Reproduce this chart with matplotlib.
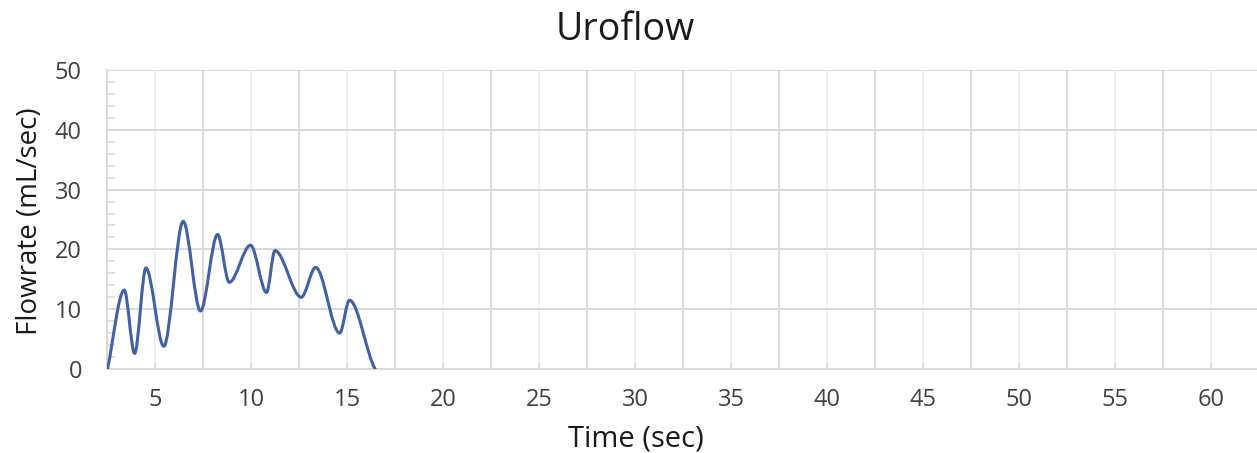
import numpy as np
import matplotlib.pyplot as plt
from matplotlib.path import Path
from matplotlib.patches import PathPatch

plt.rcParams['font.family'] = ['Open Sans', 'DejaVu Sans']

# peaks and troughs
time_s = [2.53, 3.40, 3.94, 4.53, 5.46, 6.47, 7.37, 8.26, 8.87, 9.98,
          10.81, 11.25, 12.62, 13.37, 14.62, 15.13, 16.47]
flow_ml_s = [0, 13.2, 2.6, 16.9, 3.8, 24.7, 9.7, 22.5, 14.5, 20.7,
             12.8, 19.8, 12.0, 17.0, 6.0, 11.5, 0]

x_ticks = [5, 10, 15, 20, 25, 30, 35, 40, 45, 50, 55, 60]
y_ticks = [0, 10, 20, 30, 40, 50]


def smooth_path(x, y):
    # bezier through the points, flat at the turning points (like excel smoothing)
    x = np.asarray(x, float)
    y = np.asarray(y, float)
    n = len(x)
    m = np.zeros(n)
    for i in range(n):
        if i == 0:
            m[i] = (y[1] - y[0]) / (x[1] - x[0])
        elif i == n - 1:
            m[i] = 0.6 * (y[-1] - y[-2]) / (x[-1] - x[-2])
        elif (y[i] - y[i-1]) * (y[i+1] - y[i]) <= 0:
            m[i] = 0
        else:
            m[i] = (y[i+1] - y[i-1]) / (x[i+1] - x[i-1])
    verts = [(x[0], y[0])]
    codes = [Path.MOVETO]
    for i in range(n - 1):
        h = x[i+1] - x[i]
        verts += [(x[i] + h/3, y[i] + m[i]*h/3),
                  (x[i+1] - h/3, y[i+1] - m[i+1]*h/3),
                  (x[i+1], y[i+1])]
        codes += [Path.CURVE4] * 3
    return Path(verts, codes)


fig = plt.figure(figsize=(12.57, 4.53), dpi=100)
ax = fig.add_axes([0.0851, 0.1854, 0.9149, 0.6601])

ax.add_patch(PathPatch(smooth_path(time_s, flow_ml_s), fill=False,
                       edgecolor='#3f62a4', lw=2.2, zorder=3,
                       capstyle='round', joinstyle='round'))

ax.set_xlim(2.5, 62.4)
ax.set_ylim(0, 50)

ax.set_xticks(x_ticks)
ax.set_xticks(np.arange(2.5, 62.5, 5), minor=True)
ax.set_yticks(y_ticks)
ax.set_yticks(np.arange(0, 51, 2), minor=True)

ax.grid(True, which='major', axis='x', color='#efefef', lw=1.4)
ax.grid(True, which='minor', axis='x', color='#d9d9d9', lw=1.4)
ax.grid(True, which='major', axis='y', color='#d9d9d9', lw=1.4)

ax.tick_params(axis='x', which='major', direction='in', length=5, width=1.2,
               color='#d9d9d9', pad=14, labelsize=17, labelcolor='#404040')
ax.tick_params(axis='x', which='minor', length=0)
ax.tick_params(axis='y', which='major', length=0, pad=18, labelsize=17,
               labelcolor='#404040')
ax.tick_params(axis='y', which='minor', direction='in', length=6, width=1.2,
               color='#d9d9d9')

for s in ['top', 'right']:
    ax.spines[s].set_visible(False)
for s in ['left', 'bottom']:
    ax.spines[s].set_color('#d9d9d9')
    ax.spines[s].set_linewidth(1.4)

fig.text(0.497, 0.9117, 'Uroflow', ha='center', va='baseline', fontsize=27,
         color='#1a1a1a')
fig.text(0.506, 0.014, 'Time (sec)', ha='center', va='baseline', fontsize=21,
         color='#1a1a1a')
fig.text(0.024, 0.512, 'Flowrate (mL/sec)', ha='center', va='center',
         rotation=90, fontsize=20, color='#1a1a1a')

fig.savefig('out.png', dpi=100)
